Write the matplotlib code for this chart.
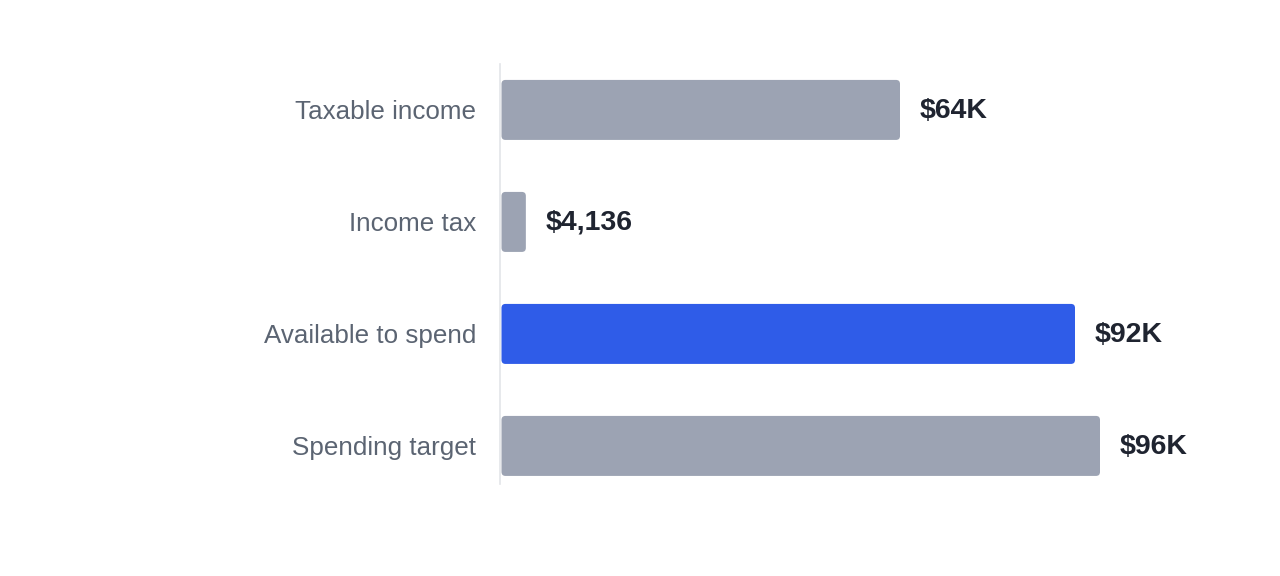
import matplotlib
matplotlib.use("Agg")
import matplotlib.pyplot as plt
from matplotlib.patches import FancyBboxPatch

categories = ["Taxable income", "Income tax", "Available to spend", "Spending target"]
values = [64000, 4136, 92000, 96000]
value_labels = ["$64K", "$4,136", "$92K", "$96K"]
highlight = [False, False, True, False]

GRAY = "#9ca3b3"
BLUE = "#2f5ce8"

plt.rcParams["font.family"] = ["Liberation Sans", "DejaVu Sans"]

W, H = 1280, 576
fig = plt.figure(figsize=(W / 100, H / 100), dpi=100)
# axes in pixel terms: x 500..1180, y 64..484 (from top)
ax = fig.add_axes([500 / W, 1 - 484 / H, 680 / W, 420 / H])
xmax = 108800
ax.set_xlim(0, xmax)
ax.set_ylim(3.34, -0.41)

px_x = xmax / 680.0
px_y = 3.75 / 420.0
bar_h = 60 * px_y
for i, (v, hl) in enumerate(zip(values, highlight)):
    x0 = 1.5 * px_x
    box = FancyBboxPatch((x0, i - bar_h / 2), v - x0, bar_h,
                         boxstyle=f"round,pad=0,rounding_size={4 * px_x}",
                         mutation_aspect=px_y / px_x,
                         facecolor=BLUE if hl else GRAY, edgecolor="none")
    ax.add_patch(box)
    ax.text(v + 20 * px_x, i + 1 * px_y, value_labels[i], va="center", ha="left",
            fontsize=20.5, fontweight="bold", color="#1f2430")

ax.set_yticks(range(len(categories)))
ax.set_yticklabels(categories, fontsize=18.7, color="#5b6472")
ax.tick_params(axis="y", length=0, pad=17.3)
ax.set_xticks([])
for s in ["top", "right", "bottom"]:
    ax.spines[s].set_visible(False)
ax.spines["left"].set_color("#e3e5e9")
ax.spines["left"].set_linewidth(1.2)

fig.savefig("out.png", dpi=100)
